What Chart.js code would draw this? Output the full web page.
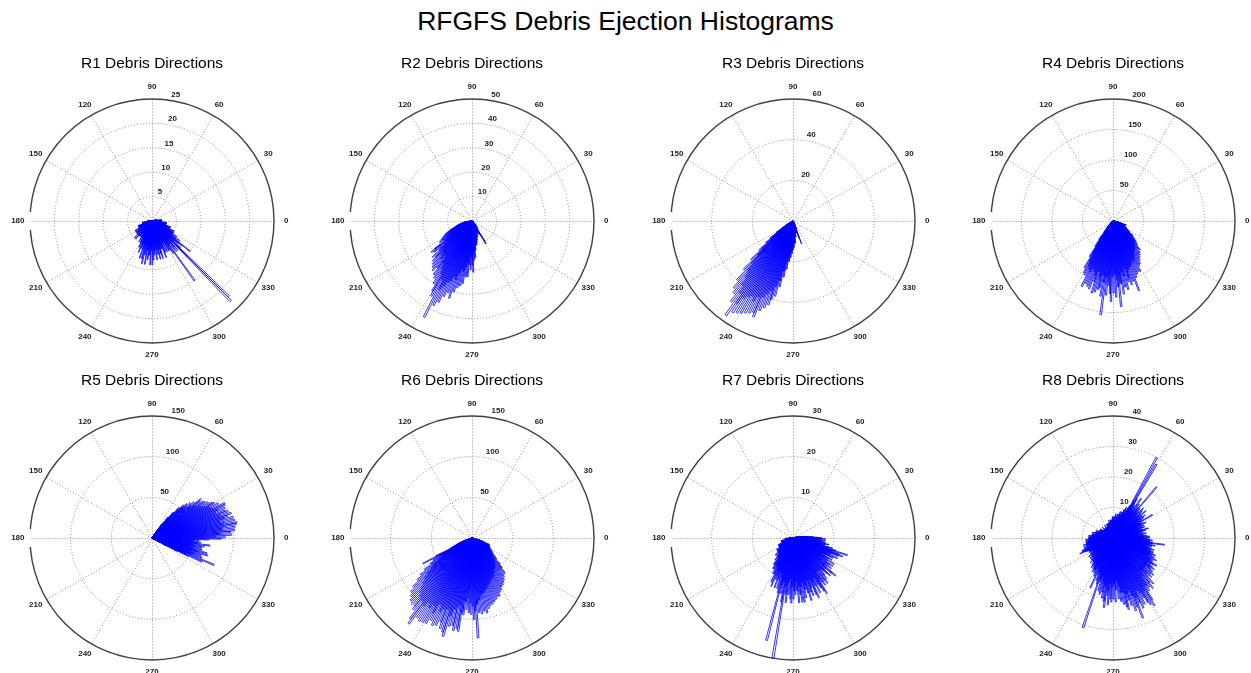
<!DOCTYPE html>
<html>
<head>
<meta charset="utf-8">
<title>RFGFS Debris Ejection Histograms</title>
<script src="https://cdn.jsdelivr.net/npm/chart.js@4.4.1/dist/chart.umd.min.js"></script>
<style>
  html, body { margin: 0; padding: 0; background: #fff; }
  body { width: 1251px; height: 673px; position: relative; overflow: hidden;
         font-family: "Liberation Sans", Arial, sans-serif; }
  #title { position: absolute; left: 0; top: 0; width: 1251px; height: 42px; line-height: 42px;
           text-align: center; font-size: 26.5px; color: #000; }
  canvas { position: absolute; }
</style>
</head>
<body>
<div id="title">RFGFS Debris Ejection Histograms</div>
<canvas id="r1" width="310" height="315"></canvas>
<canvas id="r2" width="310" height="315"></canvas>
<canvas id="r3" width="310" height="315"></canvas>
<canvas id="r4" width="310" height="315"></canvas>
<canvas id="r5" width="310" height="315"></canvas>
<canvas id="r6" width="310" height="315"></canvas>
<canvas id="r7" width="310" height="315"></canvas>
<canvas id="r8" width="310" height="315"></canvas>
<script>

const panelTitles = ['R1 Debris Directions', 'R2 Debris Directions', 'R3 Debris Directions', 'R4 Debris Directions',
                     'R5 Debris Directions', 'R6 Debris Directions', 'R7 Debris Directions', 'R8 Debris Directions'];

// radial axis of each panel
const rMax  = [25, 50, 60, 200, 150, 150, 30, 40];
const rStep = [5, 10, 20, 50, 50, 50, 10, 10];

// angle labels round the rim (deg, ccw from east)
const angleTicks = [0, 30, 60, 90, 120, 150, 180, 210, 240, 270, 300, 330];

// debris counts, one per 1 degree bin, starting at rNStart (deg, ccw from east)
const r1Start = 180;
const r1Counts = [
  1,0,1,1,0,1,1,2,1,1,  1,2,1,2,2,1,2,2,3,2,   // 180
  2,3,1,3,2,3,2,2,3,4,  3,2,3,4,2,3,4,2,4,3,   // 200
  4,2,3,5,3,4,2,5,4,3,  3,4,2,3,4,3,4,5,3,4,   // 220
  4,5,3,6,4,5,7,4,6,5,  5,8,6,4,8,5,9,4,7,6,   // 240
  9,6,5,8,7,5,7,9,6,5,  9,5,8,4,7,6,4,8,5,6,   // 260
  7,4,8,6,5,7,8,4,6,5,  6,8,4,7,5,4,7,5,4,7,   // 280
  5,7,4,8,6,15,5,6,8,5, 7,8,5,6,23,22,8,6,5,7, // 300
  8,10,6,5,7,5,4,6,4,5, 5,3,5,4,3,5,3,4,3,3,   // 320
  4,2,4,3,2,2,3,2,2,3,  2,3,2,1,3,2,1,1,2,2,   // 340
  2,1,2,1,2,1,1,1,2,1,  1,1,0,1,1,0,1,0,1,0    // 0
];

const r2Start = 185;
const r2Counts = [
  2,3,1,3,4,2,4,5,3,6,             // 185
  4,6,7,5,8,6,9,10,7,11,           // 195
  12,8,13,10,14,9,15,12,16,11,     // 205
  14,19,21,13,20,15,18,22,16,21,   // 215
  23,17,24,19,25,20,26,18,24,27,   // 225
  21,28,23,30,25,33,35,27,44,31,   // 235
  38,29,36,27,33,26,31,24,33,25,   // 245
  30,22,28,20,27,21,26,19,23,17,   // 255
  23,18,14,20,15,18,21,13,16,12,   // 265
  15,10,12,9,10,7,10,6,9,7,        // 275
  8,6,7,5,7,5,4,6,4,5,             // 285
  5,3,6,4,6,7,11,10,5,3,           // 295
  4,3,4,2,3,2,3,2,1,2,             // 305
  2,1,2,1,1,1,1,0,1,0              // 315
];

const r3Start = 208;
const r3Counts = [
  2,3,4,5,7,6,10,9,14,12,          // 208
  17,14,22,19,28,24,34,29,40,33,   // 218
  44,36,46,40,50,44,57,49,54,45,   // 228
  53,43,52,42,51,44,50,41,49,51,   // 238
  40,47,38,45,36,43,40,33,38,30,   // 248
  33,25,28,21,24,19,20,16,18,14,   // 258
  16,12,14,11,13,10,11,8,11,7,     // 268
  8,7,8,5,6,5,6,4,6,4,             // 278
  6,9,12,5,4,3,4,2,2,2,            // 288
  1,1,1                            // 298
];

const r4Start = 218;
const r4Counts = [
  3,4,5,6,8,7,11,9,14,12,                 // 218
  17,15,24,22,38,32,51,44,70,62,          // 228
  90,76,98,84,100,88,119,92,112,86,       // 238
  115,88,118,94,104,123,86,120,95,115,    // 248
  112,90,125,101,155,94,122,99,106,119,   // 258
  132,92,118,88,125,97,108,141,99,104,    // 268
  121,85,110,92,115,80,103,96,109,84,     // 278
  104,81,122,78,100,76,96,72,93,75,       // 288
  94,70,85,66,83,62,78,60,74,58,          // 298
  71,55,68,53,62,65,50,56,48,53,          // 308
  50,43,47,38,42,33,40,30,33,27,          // 318
  31,25,27,22,26,20,24,19,21,17,          // 328
  21,16,20,15,22,23,17,14,12,10,          // 338
  10,8,6,4,3                              // 348
];

const r5Start = 328;
const r5Counts = [
  2,5,10,20,35,50,68,45,83,52,          // 328
  66,55,64,50,72,58,70,52,63,49,        // 338
  62,54,65,50,72,56,60,48,58,52,        // 348
  70,85,                                // 358
  90,78,98,84,97,102,86,103,88,105,     // 0
  106,90,104,86,103,92,97,102,88,99,    // 10
  96,84,97,88,98,99,82,92,80,88,        // 20
  86,74,82,70,79,77,66,74,77,62,        // 30
  68,58,64,55,60,52,56,47,50,41,        // 40
  41,33,32,24,22,15,12,8,5,3,           // 50
  2,1,1                                 // 60
];

const r6Start = 196;
const r6Counts = [
  3,6,10,13,15,18,20,22,26,30,             // 196
  50,68,45,55,42,60,48,70,58,78,           // 206
  62,85,70,94,76,100,82,104,88,108,        // 216
  92,110,96,109,114,98,125,131,102,119,    // 226
  96,121,100,120,95,119,104,113,90,118,    // 236
  98,116,94,110,118,92,121,126,99,112,     // 246
  90,110,116,85,113,116,92,95,78,88,       // 256
  74,92,80,94,84,100,90,123,82,92,         // 266
  76,94,72,91,70,94,68,89,66,86,           // 276
  64,85,62,83,60,81,58,79,56,79,           // 286
  55,75,54,73,52,70,50,69,48,67,           // 296
  47,65,46,62,45,60,42,59,40,52,           // 306
  38,47,34,40,31,37,28,33,26,31,           // 316
  24,29,22,27,20,25,19,25,18,24,           // 326
  17,23,16,23,15,18,13,14,10,10,           // 336
  7,4,2                                    // 346
];

const r7Start = 180;
const r7Counts = [
  1,1,2,1,1,2,1,2,2,1,        2,1,3,2,1,3,2,3,2,2,         // 180
  3,2,2,3,4,2,3,4,2,4,        4,3,4,3,4,5,3,4,5,4,         // 200
  5,4,5,6,4,5,6,5,4,6,        7,5,6,8,6,8,9,7,9,8,         // 220
  10,8,10,12,9,13,10,11,9,13, 11,9,13,10,14,26,12,14,11,16, // 240
  30,12,14,16,11,14,10,15,16,12, 15,13,14,11,13,16,12,14,16,12, // 260
  16,11,15,13,12,14,16,11,14,15, 13,11,15,16,12,13,15,11,13,14, // 280
  15,16,12,13,14,10,13,14,10,13, 12,10,11,12,13,9,11,13,14,10,  // 300
  11,12,9,11,12,8,10,12,9,10,    11,8,9,11,10,12,9,10,12,13,    // 320
  12,10,14,11,9,10,8,8,7,9,      8,6,8,7,6,8,6,7,8,6,           // 340
  7,6,5,5,4,4,3,3,2,2,           2,1,1,1,1,1                    // 0
];

const r8Start = 0;
const r8Counts = [
  12,10,12,9,11,8,10,9,11,8,     9,10,8,11,9,12,10,8,9,11,      // 0
  10,9,11,8,10,12,9,11,10,10,    15,11,9,12,10,13,11,12,10,14,  // 20
  12,11,13,10,14,12,11,13,12,22, 13,11,14,12,16,11,13,12,15,28, // 40
  14,30,12,11,10,9,11,8,10,9,    8,9,7,8,9,7,8,6,7,8,           // 60
  7,6,7,8,6,7,5,6,7,6,           6,7,5,6,5,6,4,5,6,5,           // 80
  5,4,5,6,4,5,4,5,4,5,           4,5,4,3,4,5,4,3,4,4,           // 100
  4,3,4,5,4,3,4,4,3,4,           3,4,4,3,5,4,3,4,3,4,           // 120
  4,3,4,5,4,3,4,5,4,4,           5,4,5,4,5,6,5,4,5,6,           // 140
  5,6,5,6,7,6,5,6,7,6,           6,7,6,7,8,7,6,8,7,8,           // 160
  8,7,8,9,8,7,9,8,9,8,           9,8,9,10,9,8,9,10,8,9,         // 180
  10,9,11,10,11,12,10,9,8,9,     8,9,7,8,9,8,9,10,8,9,          // 200
  9,10,8,9,10,9,10,11,9,10,      10,11,10,12,11,10,12,11,13,12, // 220
  12,13,10,14,11,18,12,13,15,12, 16,31,14,15,18,13,19,15,18,20, // 240
  16,21,23,17,19,22,15,20,21,16, 20,15,21,17,14,20,16,21,18,22, // 260
  18,23,24,19,21,23,18,25,20,24, 28,21,23,25,19,24,20,22,24,25, // 280
  20,26,24,19,21,19,20,16,21,19, 15,20,17,16,18,14,17,18,14,17, // 300
  16,15,17,16,14,15,16,17,15,14, 15,14,16,13,15,14,13,15,14,13, // 320
  14,13,12,14,13,12,11,13,12,14, 12,13,17,13,12,11,13,12,11,10  // 340
];

const panelStarts = [r1Start, r2Start, r3Start, r4Start, r5Start, r6Start, r7Start, r8Start];
const panelCounts = [r1Counts, r2Counts, r3Counts, r4Counts, r5Counts, r6Counts, r7Counts, r8Counts];

// centre of each polar axes on the page
const colX = [152, 472, 793, 1113];
const rowY = [221, 538];

const labelFont = 'bold 8px "Liberation Sans", Arial, sans-serif';
const deg = Math.PI / 180;

// chart.js sweeps clockwise from east (startAngle 90), the rose goes ccw -> reverse the bins
const binLabels = Array.from({ length: 360 }, (_, i) => 359 - i);

const toBins = (start, counts) => {
    const bins = new Array(360).fill(0);
    counts.forEach((c, j) => { bins[(start + j) % 360] = c; });
    return binLabels.map(a => bins[a]);
};


// grid, rim and labels in the old matlab polar() look
const polarDecor = {
    id: 'polarDecor',
    beforeDatasetsDraw(chart) {
        const s = chart.scales.r;
        const ctx = chart.ctx;
        const cx = s.xCenter, cy = s.yCenter, R = s.drawingArea;

        ctx.save();
        ctx.lineWidth = 1;
        ctx.strokeStyle = '#8f8f8f';
        ctx.setLineDash([1, 2]);
        [0, 30, 60, 90, 120, 150].forEach(a => {
            const c = Math.cos(a * deg), sn = Math.sin(a * deg);
            ctx.beginPath();
            ctx.moveTo(cx - R * c + 0.5, cy + R * sn + 0.5);
            ctx.lineTo(cx + R * c + 0.5, cy - R * sn + 0.5);
            ctx.stroke();
        });
        s.ticks.forEach(t => {
            if (t.value <= 0 || t.value >= s.max) return;
            ctx.beginPath();
            ctx.arc(cx, cy, s.getDistanceFromCenterForValue(t.value), 0, 2 * Math.PI);
            ctx.stroke();
        });

        ctx.setLineDash([]);
        ctx.strokeStyle = '#404040';
        ctx.lineWidth = 1.4;
        ctx.beginPath();
        ctx.arc(cx, cy, R, 0, 2 * Math.PI);
        ctx.stroke();

        // the wide "180" label box breaks the rim on the left
        ctx.font = labelFont;
        ctx.fillStyle = '#fff';
        const w = ctx.measureText('180').width;
        ctx.fillRect(cx - 1.1 * R - w / 2 - 6.5, cy - 9, w + 13, 18);
        ctx.restore();
    },
    afterDatasetsDraw(chart) {
        const s = chart.scales.r;
        const ctx = chart.ctx;
        const cx = s.xCenter, cy = s.yCenter, R = s.drawingArea;
        const step = chart.options.scales.r.ticks.stepSize;

        ctx.save();
        ctx.font = labelFont;
        ctx.fillStyle = '#1e1e1e';

        ctx.textAlign = 'center';
        ctx.textBaseline = 'middle';
        angleTicks.forEach(a => {
            ctx.fillText(String(a), cx + 1.1 * R * Math.cos(a * deg), cy - 1.1 * R * Math.sin(a * deg));
        });

        // radial tick labels sit along 82 degrees
        ctx.textAlign = 'left';
        ctx.textBaseline = 'bottom';
        s.ticks.forEach(t => {
            if (t.value <= 0) return;
            const d = s.getDistanceFromCenterForValue(t.value + step / 20);
            ctx.fillText(' ' + t.value, cx + d * Math.cos(82 * deg), cy - d * Math.sin(82 * deg));
        });
        ctx.restore();
    }
};


const charts = [];

panelTitles.forEach((title, k) => {
    const canvas = document.getElementById('r' + (k + 1));
    const cx = colX[k % 4];
    const cy = rowY[Math.floor(k / 4)];
    canvas.style.left = (cx - 155) + 'px';
    canvas.style.top = (cy - 170) + 'px';

    charts.push(new Chart(canvas, {
        type: 'polarArea',
        data: {
            labels: binLabels,
            datasets: [
                {
                    data: toBins(panelStarts[k], panelCounts[k]),
                    backgroundColor: 'rgba(0, 0, 0, 0)',
                    borderColor: '#0000ff',
                    borderWidth: 0.8
                }
            ]
        },
        options: {
            responsive: false,
            animation: false,
            events: [],
            layout: {
                padding: { left: 33, right: 33, top: 0, bottom: 23 }
            },
            plugins: {
                legend: { display: false },
                tooltip: { enabled: false },
                title: {
                    display: true,
                    text: title,
                    color: '#000',
                    font: { family: '"Liberation Sans", Arial, sans-serif', size: 15.5, weight: 'normal' },
                    padding: { top: 3, bottom: 26.4 }
                }
            },
            scales: {
                r: {
                    min: 0,
                    max: rMax[k],
                    startAngle: 90,
                    ticks: { display: false, stepSize: rStep[k] },
                    grid: { display: false },
                    angleLines: { display: false },
                    pointLabels: { display: false }
                }
            }
        },
        plugins: [polarDecor]
    }));
});

</script>
</body>
</html>
